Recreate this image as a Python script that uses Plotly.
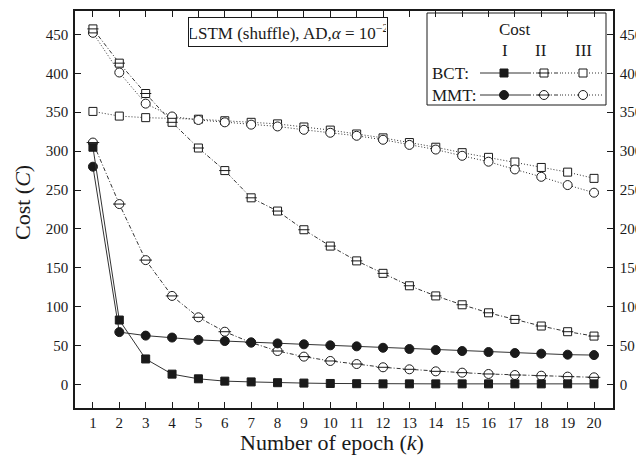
import plotly.graph_objects as go

# ---------------- data ----------------
epochs = list(range(1, 21))
x_ticks = list(range(1, 21))
y_ticks = list(range(0, 451, 50))

bct_I = [305, 83, 33, 13.5, 7.5, 4.5, 3.5, 2.5, 2, 1.5, 1.2, 1, 1, 1, 1, 1, 1, 1, 1, 1]
mmt_I = [280, 67.5, 63, 60.5, 57.5, 56, 54.3, 53, 51.8, 50.5, 49.2, 47.4, 45.8, 44.5, 43.2,
         41.9, 40.6, 39.8, 38.5, 38]
bct_II = [457, 413, 374, 337, 304, 275, 240, 223, 199, 178, 159, 143, 127, 114, 102.6, 92.3,
          83.8, 75.3, 68, 62.4]
mmt_II = [311, 232, 160, 114, 86.5, 68, 54, 43.2, 36, 30.4, 26.5, 22.3, 19.7, 17.1, 15.4,
          13.7, 12.4, 11.5, 10.3, 9.4]
bct_III = [351, 345, 343, 342, 341, 339, 337, 335, 331, 327, 322, 317, 311, 305, 298, 292,
           286, 279, 273, 265]
mmt_III = [452, 401, 361, 344.5, 340, 337, 334, 331.7, 327.4, 323.6, 319.7, 314.6, 308, 302,
           294, 286.4, 276.5, 267, 256.4, 246.6]

title_text = "LSTM (shuffle), AD,<i>α</i> = 10<sup>−2</sup>"
legend_head = "Cost"
legend_cols = ["I", "II", "III"]
legend_rows = ["BCT:", "MMT:"]

# ---------------- style ----------------
FONT = "Liberation Serif, Times New Roman, serif"
INK = "#1a1a1a"
LINE = "#333333"
# the page body has an 8px margin; the figure fills the rest of the 644x459 window
W, H = 636, 451
L, R, T, B = 67, 31, 3, 51
# reference-pixel frame of the plot area (used by the overlay axes)
PX0, PX1, PY0, PY1 = 75, 613, 11, 408
SQ, CI = 8, 9
DASHDOT = "4px,2px,1px,2px"
DOT = "1px,2px"

fig = go.Figure()


def add_series(x, y, dash, symbol, filled, barred, xa="x", ya="y", size=8):
    fill = INK if filled else "white"
    fig.add_trace(go.Scatter(
        x=x, y=y, mode="lines+markers", xaxis=xa, yaxis=ya, showlegend=False,
        line=dict(color=LINE, width=1, dash=dash),
        marker=dict(symbol=symbol, size=size, color=fill, line=dict(color=INK, width=1)),
        hoverinfo="skip"))
    if barred:
        fig.add_trace(go.Scatter(
            x=x, y=y, mode="markers", xaxis=xa, yaxis=ya, showlegend=False,
            marker=dict(symbol="line-ew", size=size, line=dict(color=INK, width=1)),
            hoverinfo="skip"))


# chart series
add_series(epochs, bct_III, DOT, "square", False, False, size=SQ)
add_series(epochs, mmt_III, DOT, "circle", False, False, size=CI)
add_series(epochs, bct_II, DASHDOT, "square", False, True, size=SQ)
add_series(epochs, mmt_II, DASHDOT, "circle", False, True, size=CI)
add_series(epochs, bct_I, "solid", "square", True, False, ya="y2", size=SQ)
add_series(epochs, mmt_I, "solid", "circle", True, False, size=CI)

# legend box (overlay axes in reference-pixel units)
box_x0, box_x1, box_y0, box_y1 = 427, 606, 13, 105
row_y = [73, 95]
seg = [(480, 527, 504), (527, 562, 544), (562, 604, 583)]
styles = [("solid", True, False), (DASHDOT, False, True), (DOT, False, False)]
symbols = [("square", SQ), ("circle", CI)]
for ri, yy in enumerate(row_y):
    sym, sz = symbols[ri]
    for (x0, x1, xm), (dash, filled, barred) in zip(seg, styles):
        fig.add_trace(go.Scatter(x=[x0, x1], y=[yy, yy], mode="lines", xaxis="x3", yaxis="y3",
                                 showlegend=False, hoverinfo="skip",
                                 line=dict(color=LINE, width=1, dash=dash)))
        add_series([xm], [yy], dash, sym, filled, barred, xa="x3", ya="y3", size=sz)

fig.add_shape(type="rect", xref="x3", yref="y3", x0=box_x0, x1=box_x1, y0=box_y0, y1=box_y1,
              line=dict(color=INK, width=1), fillcolor="white", layer="below")

ann = []
ann.append(dict(xref="x3", yref="y3", x=514, y=29, text=legend_head, showarrow=False,
                font=dict(family=FONT, size=17, color=INK)))
for t, xx in zip(legend_cols, [505, 541, 583]):
    ann.append(dict(xref="x3", yref="y3", x=xx, y=50, text=t, showarrow=False,
                    font=dict(family=FONT, size=17, color=INK)))
for t, yy in zip(legend_rows, row_y):
    ann.append(dict(xref="x3", yref="y3", x=430, y=yy, text=t, showarrow=False, xanchor="left",
                    font=dict(family=FONT, size=17, color=INK)))
# title box
ann.append(dict(xref="x3", yref="y3", x=287.5, y=32, text=title_text, showarrow=False,
                font=dict(family=FONT, size=17, color=INK), bordercolor=INK, borderwidth=1,
                bgcolor="white", width=196, height=26, borderpad=1))
# axis titles (positions given in reference pixels, converted to paper units)
PW, PH = PX1 - PX0, PY1 - PY0
ann.append(dict(xref="paper", yref="paper", x=(332 - PX0) / PW, y=(PY1 - 442) / PH,
                text="Number of epoch (<i>k</i>)", showarrow=False, yanchor="middle",
                font=dict(family=FONT, size=22, color=INK)))
ann.append(dict(xref="paper", yref="paper", x=(22 - PX0) / PW, y=(PY1 - 203) / PH,
                text="Cost (<i>C</i>)", showarrow=False, textangle=-90, xanchor="center",
                font=dict(family=FONT, size=22, color=INK)))

tickfont = dict(family=FONT, size=15, color=INK)
yr = [-30, 480]
fig.update_layout(
    width=W, height=H, margin=dict(l=L, r=R, t=T, b=B, autoexpand=False),
    paper_bgcolor="white", plot_bgcolor="white",
    annotations=ann,
    xaxis=dict(range=[0.32, 20.72], tickvals=x_ticks, ticks="inside", ticklen=6, tickwidth=1.3,
               tickcolor=INK, showline=True, linecolor=INK, linewidth=1.6, mirror="ticks",
               showgrid=False, zeroline=False, tickfont=tickfont, ticklabelstandoff=0,
               automargin=False),
    yaxis=dict(range=yr, tickvals=y_ticks, ticks="inside", ticklen=6, tickwidth=1.3,
               tickcolor=INK, showline=True, linecolor=INK, linewidth=1.6, mirror=True,
               showgrid=False, zeroline=False, tickfont=tickfont, ticklabelstandoff=2,
               automargin=False),
    yaxis2=dict(range=yr, tickvals=y_ticks, ticks="inside", ticklen=6, tickwidth=1.3,
                tickcolor=INK, showline=True, linecolor=INK, linewidth=1.6, side="right",
                overlaying="y", anchor="x", showgrid=False, zeroline=False, tickfont=tickfont,
                ticklabelstandoff=2, automargin=False),
    xaxis3=dict(range=[PX0, PX1], overlaying="x", anchor="y3", visible=False, automargin=False),
    yaxis3=dict(range=[PY1, PY0], overlaying="y", anchor="x3", visible=False, automargin=False),
)

fig.write_html("out.html")
